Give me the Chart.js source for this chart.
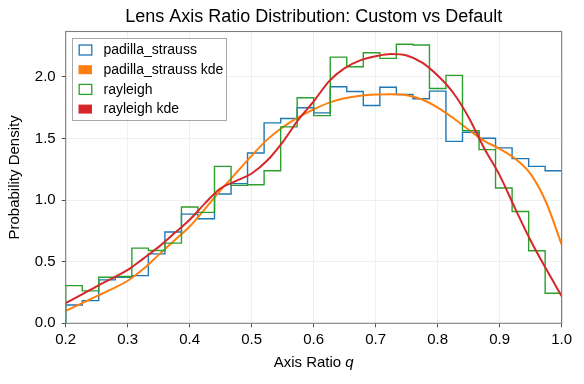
<!DOCTYPE html>
<html><head><meta charset="utf-8">
<script src="https://cdn.jsdelivr.net/npm/chart.js@4"></script>
<style>html,body{margin:0;padding:0;background:#fff}</style>
</head><body>
<canvas id="c" width="584" height="384"></canvas>
<script>
// ---- data ----
const binEdges = [0.2, 0.2267, 0.2533, 0.28, 0.3067, 0.3333, 0.36, 0.3867, 0.4133, 0.44, 0.4667,
  0.4933, 0.52, 0.5467, 0.5733, 0.6, 0.6267, 0.6533, 0.68, 0.7067, 0.7333,
  0.76, 0.7867, 0.8133, 0.84, 0.8667, 0.8933, 0.92, 0.9467, 0.9733, 1.0];
const padillaHist = [0.149, 0.184, 0.352, 0.374, 0.387, 0.563, 0.74, 0.886, 0.848, 1.049,
  1.133, 1.382, 1.626, 1.661, 1.748, 1.707, 1.919, 1.880, 1.767, 1.915,
  1.856, 1.821, 1.883, 1.476, 1.550, 1.501, 1.423, 1.336, 1.273, 1.238];
const rayleighHist = [0.306, 0.263, 0.374, 0.38, 0.61, 0.59, 0.65, 0.943, 0.90, 1.273,
  1.119, 1.124, 1.238, 1.593, 1.829, 1.685, 2.159, 2.081, 2.195, 2.149,
  2.263, 2.257, 1.905, 2.011, 1.563, 1.409, 1.097, 0.907, 0.588, 0.244];
const kdeX = [0.2, 0.225, 0.25, 0.275, 0.3, 0.325, 0.35, 0.375, 0.4, 0.425, 0.45, 0.475, 0.5,
  0.525, 0.55, 0.575, 0.6, 0.625, 0.65, 0.675, 0.7, 0.725, 0.75, 0.775, 0.8,
  0.825, 0.85, 0.875, 0.9, 0.925, 0.95, 0.975, 1.0];
const padillaKde = [0.10, 0.16, 0.22, 0.28, 0.345, 0.44, 0.555, 0.67, 0.785, 0.93, 1.08, 1.22, 1.36,
  1.49, 1.59, 1.67, 1.735, 1.79, 1.825, 1.845, 1.855, 1.857, 1.85, 1.815, 1.75,
  1.665, 1.57, 1.48, 1.415, 1.335, 1.21, 0.98, 0.637];
const rayleighKde = [0.163, 0.23, 0.30, 0.365, 0.433, 0.525, 0.62, 0.73, 0.84, 0.975, 1.095, 1.155, 1.215,
  1.32, 1.47, 1.65, 1.80, 1.965, 2.07, 2.133, 2.167, 2.185, 2.173, 2.115, 2.01,
  1.87, 1.67, 1.42, 1.20, 0.93, 0.67, 0.44, 0.22];
const seriesLabels = ['padilla_strauss', 'padilla_strauss kde', 'rayleigh', 'rayleigh kde'];
const xTickLabels = ['0.2','0.3','0.4','0.5','0.6','0.7','0.8','0.9','1.0'];
const yTickLabels = ['0.0','0.5','1.0','1.5','2.0'];

const FONT = '"Liberation Sans", Arial, Helvetica, sans-serif';

function stepPoints(edges, vals) {
  const pts = [{x: edges[0], y: 0}];
  for (let i = 0; i < vals.length; i++) pts.push({x: edges[i], y: vals[i]});
  pts.push({x: edges[edges.length - 1], y: vals[vals.length - 1]});
  pts.push({x: edges[edges.length - 1], y: 0});
  return pts;
}
function curvePoints(xs, ys) { return xs.map((x, i) => ({x, y: ys[i]})); }

const decorations = {
  id: 'decorations',
  afterDatasetsDraw(chart) {
    const {ctx, chartArea: a} = chart;
    ctx.save();
    ctx.strokeStyle = '#7f7f7f';
    ctx.lineWidth = 1.1;
    ctx.strokeRect(a.left, a.top, a.right - a.left, a.bottom - a.top);
    ctx.restore();
  },
  afterDraw(chart) {
    const {ctx, chartArea: a} = chart;
    ctx.save();
    // title
    ctx.fillStyle = '#000';
    ctx.font = '18px ' + FONT;
    ctx.textAlign = 'center';
    ctx.textBaseline = 'middle';
    ctx.fillText('Lens Axis Ratio Distribution: Custom vs Default', (a.left + a.right) / 2, 17);
    // x label with italic q
    ctx.font = '15px ' + FONT;
    const p1 = 'Axis Ratio ';
    const w1 = ctx.measureText(p1).width;
    ctx.font = 'italic 15px ' + FONT;
    const w2 = ctx.measureText('q').width;
    const cx = (a.left + a.right) / 2;
    let sx = cx - (w1 + w2) / 2;
    ctx.textAlign = 'left';
    ctx.font = '15px ' + FONT;
    ctx.fillText(p1, sx, 363);
    ctx.font = 'italic 15px ' + FONT;
    ctx.fillText('q', sx + w1, 363);
    // y label
    ctx.save();
    ctx.translate(15, (a.top + a.bottom) / 2);
    ctx.rotate(-Math.PI / 2);
    ctx.textAlign = 'center';
    ctx.font = '15px ' + FONT;
    ctx.fillText('Probability Density', 0, 0);
    ctx.restore();
    // legend
    const x0 = 72.5, y0 = 38.5, w = 154, h = 82;
    ctx.fillStyle = 'rgba(255,255,255,0.85)';
    ctx.fillRect(x0, y0, w, h);
    ctx.strokeStyle = '#a8a8a8';
    ctx.lineWidth = 1;
    ctx.strokeRect(x0, y0, w, h);
    chart.data.datasets.forEach((ds, i) => {
      const cy = 50 + i * 19.7;
      if (ds.legendFill) {
        ctx.fillStyle = ds.borderColor;
        ctx.fillRect(78.5, cy - 4.5, 13.5, 9);
      } else {
        ctx.strokeStyle = ds.borderColor;
        ctx.lineWidth = 1.3;
        ctx.strokeRect(79.2, cy - 5, 12.6, 10);
      }
      ctx.fillStyle = '#000';
      ctx.font = '14px ' + FONT;
      ctx.textAlign = 'left';
      ctx.textBaseline = 'middle';
      ctx.fillText(ds.label, 103.5, cy + 0.5);
    });
    ctx.restore();
  }
};

new Chart(document.getElementById('c'), {
  type: 'line',
  data: {
    datasets: [
      {label: seriesLabels[0], data: stepPoints(binEdges, padillaHist), stepped: true,
       borderColor: '#1f77b4', borderWidth: 1.4, pointRadius: 0, fill: false, order: 4, legendFill: false},
      {label: seriesLabels[1], data: curvePoints(kdeX, padillaKde), cubicInterpolationMode: 'monotone',
       borderColor: '#ff7f0e', borderWidth: 2, pointRadius: 0, fill: false, order: 3, legendFill: true},
      {label: seriesLabels[2], data: stepPoints(binEdges, rayleighHist), stepped: true,
       borderColor: '#2ca02c', borderWidth: 1.4, pointRadius: 0, fill: false, order: 2, legendFill: false},
      {label: seriesLabels[3], data: curvePoints(kdeX, rayleighKde), cubicInterpolationMode: 'monotone',
       borderColor: '#d62728', borderWidth: 2, pointRadius: 0, fill: false, order: 1, legendFill: true}
    ]
  },
  options: {
    responsive: false,
    animation: false,
    devicePixelRatio: 1,
    layout: {padding: {top: 31.5, right: 22.3, left: 0, bottom: 0}},
    plugins: {legend: {display: false}, title: {display: false}, tooltip: {enabled: false}},
    scales: {
      x: {
        type: 'linear', min: 0.2, max: 1.0,
        afterFit(s) { s.height = 60.7; },
        afterBuildTicks(s) { s.ticks = xTickLabels.map(v => ({value: parseFloat(v)})); },
        ticks: {callback: (v, i) => xTickLabels[i], font: {family: FONT, size: 15}, color: '#000', padding: 4, maxRotation: 0, autoSkip: false},
        grid: {color: '#ebebeb', lineWidth: 0.8, tickColor: '#222', tickLength: 4, drawTicks: true},
        border: {display: false}
      },
      y: {
        type: 'linear', min: 0, max: 2.367,
        afterFit(s) { s.width = 65.7; },
        afterBuildTicks(s) { s.ticks = yTickLabels.map(v => ({value: parseFloat(v)})); },
        ticks: {callback: (v, i) => yTickLabels[i], font: {family: FONT, size: 15}, color: '#000', padding: 6, autoSkip: false},
        grid: {color: '#ebebeb', lineWidth: 0.8, tickColor: '#222', tickLength: 4, drawTicks: true},
        border: {display: false}
      }
    }
  },
  plugins: [decorations]
});
</script>
</body></html>
